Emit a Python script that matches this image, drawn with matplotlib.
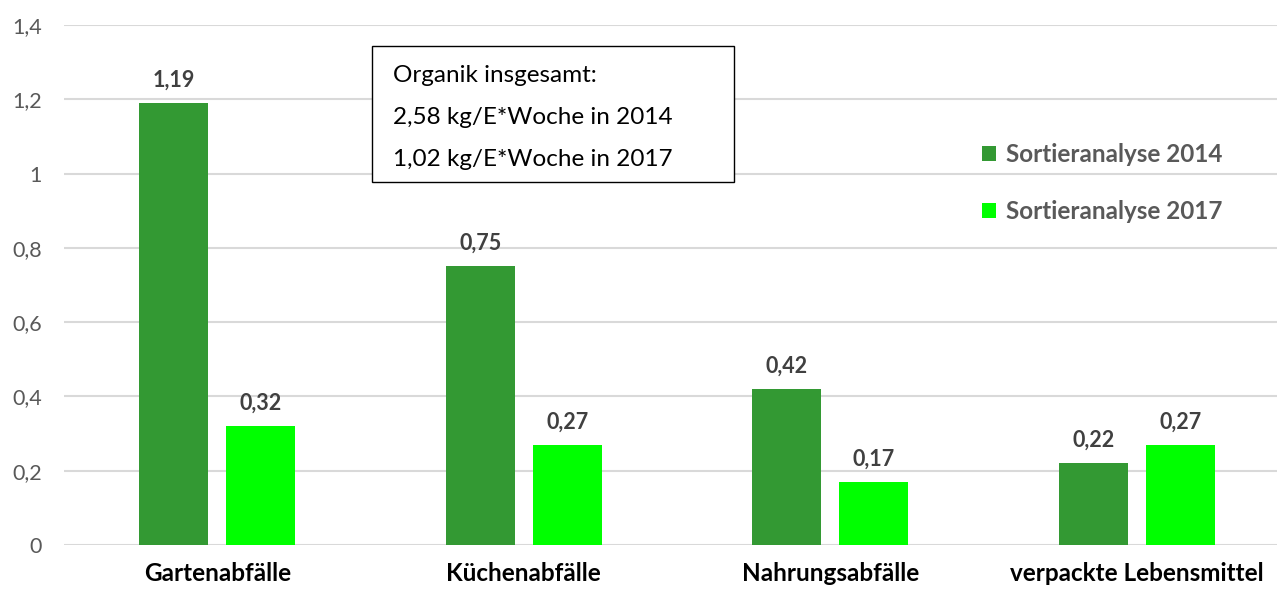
import matplotlib
matplotlib.use("Agg")
import matplotlib.pyplot as plt
import numpy as np

categories = ["Gartenabfälle", "Küchenabfälle", "Nahrungsabfälle", "verpackte Lebensmittel"]
series_names = ["Sortieranalyse 2014", "Sortieranalyse 2017"]
values_2014 = [1.19, 0.75, 0.42, 0.22]
values_2017 = [0.32, 0.27, 0.17, 0.27]
yticks = [0, 0.2, 0.4, 0.6, 0.8, 1.0, 1.2, 1.4]
ytick_labels = ["0", "0,2", "0,4", "0,6", "0,8", "1", "1,2", "1,4"]
box_lines = ["Organik insgesamt:", "2,58 kg/E*Woche in 2014", "1,02 kg/E*Woche in 2017"]

colors = ["#339933", "#00ff00"]
plt.rcParams['font.family'] = ['Lato', 'DejaVu Sans']

W, H = 1277, 590
fig = plt.figure(figsize=(W/100, H/100), dpi=100)
ax = fig.add_axes([64/W, 1-545/H, 1226/W, 520/H])

x = np.arange(len(categories))
bw = 0.225
off = 0.142
for vals, c, o, name in [(values_2014, colors[0], -off, series_names[0]),
                         (values_2017, colors[1], off, series_names[1])]:
    bars = ax.bar(x + o, vals, width=bw, color=c, zorder=3, label=name)
    for b, v in zip(bars, vals):
        ax.annotate(f"{v:.2f}".replace(".", ","), (b.get_x() + b.get_width()/2, v),
                    xytext=(0, 9), textcoords="offset points", ha="center", va="bottom",
                    fontsize=15.5, fontweight="bold", color="#404040")

ax.set_xlim(-0.5, len(categories) - 0.5)
ax.set_ylim(0, 1.4)
ax.set_yticks(yticks)
ax.set_yticklabels(ytick_labels, fontsize=15.5, color="#595959")
ax.set_xticks(x)
ax.set_xticklabels(categories, fontsize=17.5, fontweight="bold", color="black")
ax.tick_params(axis="both", length=0)
ax.tick_params(axis="y", pad=16)
ax.tick_params(axis="x", pad=12)
for s in ax.spines.values():
    s.set_visible(False)
ax.yaxis.grid(True, color="#d9d9d9", linewidth=1.5, zorder=0)
ax.set_axisbelow(True)

leg = fig.legend(loc="upper left", bbox_to_anchor=(960/W, 1-121/H), frameon=False,
                 prop={"size": 17.5, "weight": "bold"}, handlelength=0.6, handleheight=0.6,
                 handletextpad=0.4, labelspacing=1.4)
for t in leg.get_texts():
    t.set_color("#595959")

# text box
from matplotlib.patches import Rectangle
fig.patches.append(Rectangle((372/W, 1-182/H), 362/W, 136/H, transform=fig.transFigure,
                             facecolor="white", edgecolor="black", linewidth=1.0, zorder=5))
for i, line in enumerate(box_lines):
    fig.text(393/W, 1-(76 + 41.5*i)/H, line, fontsize=17.5, color="black",
             ha="left", va="center", zorder=6)

fig.savefig("out.png", dpi=100)
